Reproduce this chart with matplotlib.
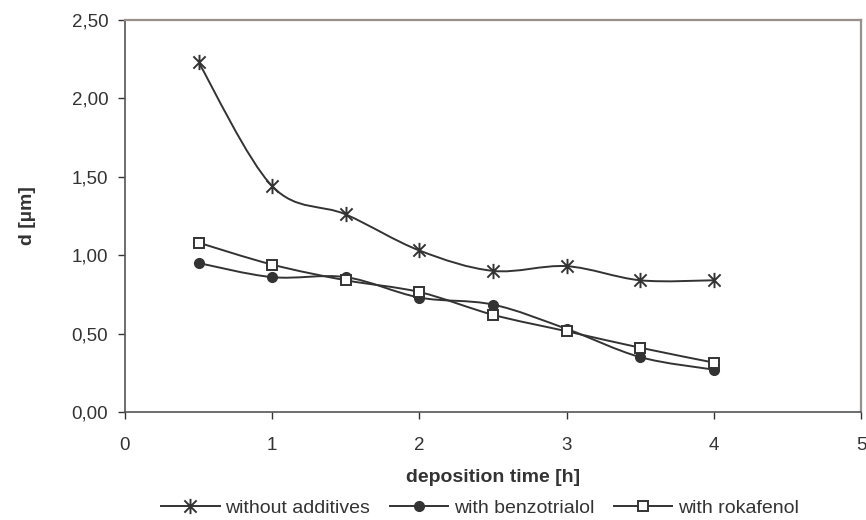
import matplotlib
matplotlib.use('Agg')
import matplotlib.pyplot as plt
import numpy as np
from matplotlib.path import Path
from matplotlib.patches import PathPatch
from matplotlib.ticker import FuncFormatter

plt.rcParams['font.family'] = ['Liberation Sans', 'DejaVu Sans']

time_h = [0.5, 1.0, 1.5, 2.0, 2.5, 3.0, 3.5, 4.0]
without_additives = [2.23, 1.44, 1.26, 1.03, 0.90, 0.93, 0.84, 0.84]
with_benzotrialol = [0.95, 0.86, 0.86, 0.73, 0.685, 0.53, 0.35, 0.27]
with_rokafenol = [1.08, 0.94, 0.84, 0.765, 0.62, 0.515, 0.41, 0.315]

ink = '#333333'

# asterisk marker like the spreadsheet one
star = Path([(0, -1), (0, 1), (-0.8, -0.8), (0.8, 0.8), (-0.8, 0.8), (0.8, -0.8)],
            [Path.MOVETO, Path.LINETO] * 3)


def smooth_path(x, y):
    """Bezier path through the points (Catmull-Rom style, like Excel smoothing)."""
    pts = np.column_stack([x, y]).astype(float)
    verts = [pts[0]]
    codes = [Path.MOVETO]
    n = len(pts)
    for i in range(n - 1):
        p0 = pts[i - 1] if i > 0 else pts[i]
        p1 = pts[i]
        p2 = pts[i + 1]
        p3 = pts[i + 2] if i + 2 < n else pts[i + 1]
        c1 = p1 + (p2 - p0) / 6.0
        c2 = p2 - (p3 - p1) / 6.0
        verts += [c1, c2, p2]
        codes += [Path.CURVE4] * 3
    return Path(verts, codes)


fig = plt.figure(figsize=(8.66, 5.2), dpi=100)
ax = fig.add_axes([125 / 866, 1 - 412 / 520, 736 / 866, 392 / 520])

series = [
    (without_additives, dict(marker=star, markersize=11, mew=1.4, mfc='none', mec=ink), 'without additives'),
    (with_benzotrialol, dict(marker='o', markersize=7, mfc=ink, mec=ink), 'with benzotrialol'),
    (with_rokafenol, dict(marker='s', markersize=7.5, mfc='white', mec=ink, mew=1.4), 'with rokafenol'),
]

for vals, mk, lab in series:
    ax.add_patch(PathPatch(smooth_path(time_h, vals), fill=False, edgecolor=ink, lw=1.4, zorder=2))
    ax.plot(time_h, vals, ls='none', zorder=3, **mk)
    # legend proxy
    ax.plot([], [], color=ink, lw=1.4, label=lab, **mk)

ax.set_xlim(0, 5)
ax.set_ylim(0, 2.5)
ax.set_xticks(range(0, 6))
ax.set_yticks(np.arange(0, 2.51, 0.5))
ax.yaxis.set_major_formatter(FuncFormatter(lambda v, p: ('%.2f' % v).replace('.', ',')))
ax.tick_params(labelsize=13.5, colors='#333333', length=5, width=1, direction='out')
ax.tick_params(axis='x', pad=13)
ax.tick_params(axis='y', pad=7)

for s in ['left', 'bottom']:
    ax.spines[s].set_color('#555555')
    ax.spines[s].set_linewidth(1.2)
for s in ['top', 'right']:
    ax.spines[s].set_color('#9a908b')
    ax.spines[s].set_linewidth(1.6)

ax.set_xlabel('deposition time [h]', fontsize=14, fontweight='bold', color='#333333', labelpad=11)
ax.set_ylabel('d [µm]', fontsize=14, fontweight='bold', color='#333333', labelpad=26)

fig.legend(loc='center', bbox_to_anchor=(480 / 866, 1 - 508 / 520), ncol=3, frameon=False,
           fontsize=14, handlelength=3.0, handletextpad=0.3, columnspacing=1.0,
           labelcolor='#333333')

fig.savefig('out.png', dpi=100)
